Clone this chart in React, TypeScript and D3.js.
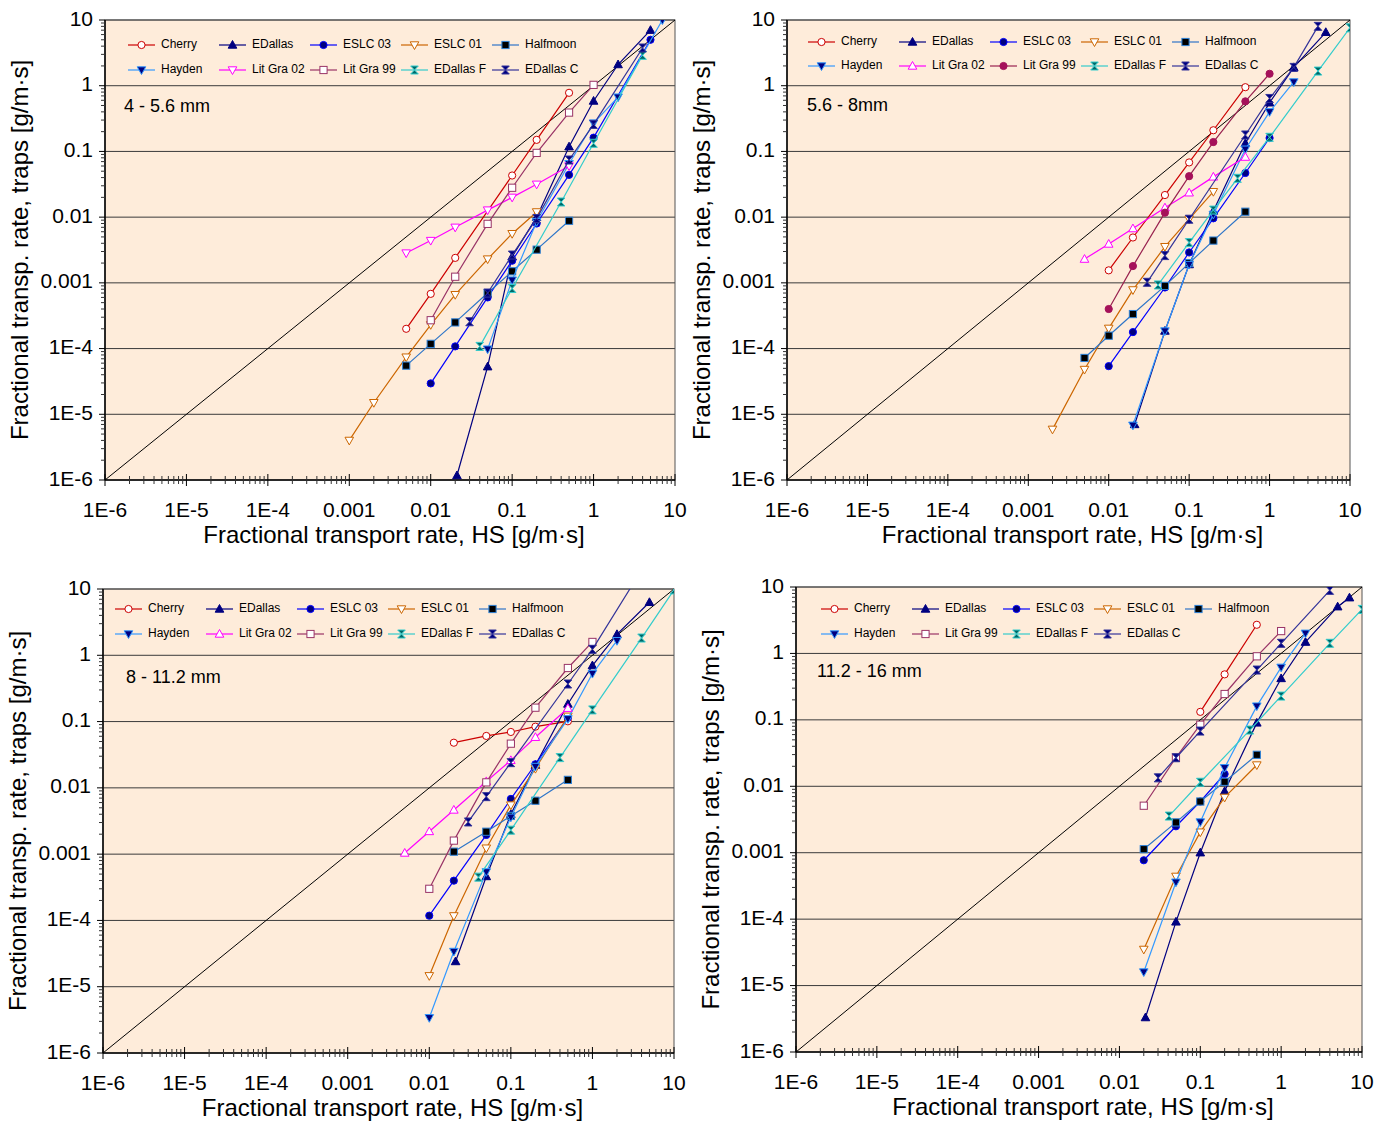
import React from "react";
import * as d3 from "d3";

type Pt = [number, number];

const TICK_VALUES = [1e-6, 1e-5, 1e-4, 1e-3, 0.01, 0.1, 1, 10];
const TICK_LABELS = ["1E-6", "1E-5", "1E-4", "0.001", "0.01", "0.1", "1", "10"];
const X_TITLE = "Fractional transport rate, HS [g/m·s]";
const Y_TITLE = "Fractional transp. rate, traps [g/m·s]";

// ---------- Panel 1: 4 - 5.6 mm ----------
const p1Cherry: Pt[] = [[0.005, 2e-4], [0.01, 6.8e-4], [0.02, 2.4e-3], [0.1, 0.043], [0.2, 0.15], [0.5, 0.78]];
const p1EDallas: Pt[] = [[0.021, 1.17e-6], [0.05, 5.3e-5], [0.1, 0.0025], [0.2, 0.01], [0.5, 0.118], [1, 0.585], [2, 2.1], [5, 7]];
const p1ESLC03: Pt[] = [[0.01, 2.95e-5], [0.02, 1.08e-4], [0.05, 6e-4], [0.1, 0.00217], [0.2, 0.008], [0.5, 0.044], [1, 0.162], [5, 5]];
const p1ESLC01: Pt[] = [[0.001, 4e-6], [0.002, 1.5e-5], [0.005, 7.4e-5], [0.01, 2.3e-4], [0.02, 6.6e-4], [0.05, 0.0023], [0.1, 0.0056], [0.2, 0.012]];
const p1Halfmoon: Pt[] = [[0.005, 5.5e-5], [0.01, 1.18e-4], [0.02, 2.5e-4], [0.05, 7e-4], [0.1, 0.0015], [0.2, 0.0032], [0.5, 0.0088]];
const p1Hayden: Pt[] = [[0.05, 9.8e-5], [0.1, 0.0011], [0.2, 0.0085], [0.5, 0.065], [1, 0.27], [2, 0.67], [7, 10]];
const p1LitGra02: Pt[] = [[0.005, 0.00284], [0.01, 0.0044], [0.02, 0.007], [0.05, 0.0128], [0.1, 0.02], [0.2, 0.0316], [0.5, 0.06]];
const p1LitGra99: Pt[] = [[0.01, 2.7e-4], [0.02, 1.24e-3], [0.05, 7.9e-3], [0.1, 0.028], [0.2, 0.095], [0.5, 0.39], [1, 1.03]];
const p1EDallasF: Pt[] = [[0.04, 1.08e-4], [0.1, 8.2e-4], [0.4, 0.017], [1, 0.133], [4, 2.9]];
const p1EDallasC: Pt[] = [[0.03, 2.56e-4], [0.05, 7e-4], [0.1, 0.00265], [0.2, 0.0095], [0.5, 0.074], [1, 0.258], [4, 3.75]];

// ---------- Panel 2: 5.6 - 8mm ----------
const p2Cherry: Pt[] = [[0.01, 0.00155], [0.02, 0.0049], [0.05, 0.0217], [0.1, 0.068], [0.2, 0.21], [0.5, 0.95]];
const p2EDallas: Pt[] = [[0.021, 7e-6], [0.05, 1.85e-4], [0.1, 0.0019], [0.2, 0.0124], [0.5, 0.133], [1, 0.55], [2, 1.9], [5, 6.5]];
const p2ESLC03: Pt[] = [[0.01, 5.4e-5], [0.02, 1.78e-4], [0.05, 8.5e-4], [0.1, 0.0029], [0.2, 0.0096], [0.5, 0.047], [1, 0.16]];
const p2ESLC01: Pt[] = [[0.002, 5.9e-6], [0.005, 4.8e-5], [0.01, 2.03e-4], [0.02, 7.8e-4], [0.05, 0.00355], [0.1, 0.0093], [0.2, 0.0244]];
const p2Halfmoon: Pt[] = [[0.005, 7.2e-5], [0.01, 1.57e-4], [0.02, 3.35e-4], [0.05, 9e-4], [0.1, 0.002], [0.2, 0.0044], [0.5, 0.0121]];
const p2Hayden: Pt[] = [[0.02, 6.8e-6], [0.05, 1.85e-4], [0.1, 0.0019], [0.2, 0.011], [0.5, 0.108], [1, 0.4], [2, 1.14]];
const p2LitGra02: Pt[] = [[0.005, 0.0023], [0.01, 0.0039], [0.02, 0.0067], [0.05, 0.0139], [0.1, 0.0235], [0.2, 0.041], [0.5, 0.082]];
const p2LitGra99: Pt[] = [[0.01, 4e-4], [0.02, 0.0018], [0.05, 0.0117], [0.1, 0.042], [0.2, 0.139], [0.5, 0.578], [1, 1.52]];
const p2EDallasF: Pt[] = [[0.041, 9.3e-4], [0.1, 0.0041], [0.2, 0.0128], [0.4, 0.039], [1, 0.164], [4, 1.67], [10, 7.6]];
const p2EDallasC: Pt[] = [[0.03, 0.00102], [0.05, 0.0026], [0.1, 0.0093], [0.5, 0.178], [1, 0.64], [2, 1.9], [4, 8]];

// ---------- Panel 3: 8 - 11.2 mm ----------
const p3Cherry: Pt[] = [[0.02, 0.048], [0.05, 0.0607], [0.1, 0.0697], [0.2, 0.0838], [0.5, 0.101]];
const p3EDallas: Pt[] = [[0.021, 2.4e-5], [0.05, 4.6e-4], [0.1, 0.004], [0.2, 0.022], [0.5, 0.184], [1, 0.7], [2, 2.07], [5, 6.3]];
const p3ESLC03: Pt[] = [[0.01, 1.18e-4], [0.02, 3.98e-4], [0.05, 0.00195], [0.1, 0.0068], [0.2, 0.0227], [0.5, 0.1146]];
const p3ESLC01: Pt[] = [[0.01, 1.46e-5], [0.02, 1.17e-4], [0.05, 0.00123], [0.1, 0.0055], [0.2, 0.0195], [0.5, 0.12]];
const p3Halfmoon: Pt[] = [[0.02, 0.00109], [0.05, 0.00218], [0.1, 0.00377], [0.2, 0.0064], [0.5, 0.0132]];
const p3Hayden: Pt[] = [[0.01, 3.4e-6], [0.02, 3.4e-5], [0.05, 5.4e-4], [0.1, 0.0036], [0.2, 0.021], [0.5, 0.11], [1, 0.53], [2, 1.66]];
const p3LitGra02: Pt[] = [[0.005, 0.00104], [0.01, 0.0022], [0.02, 0.00464], [0.05, 0.0125], [0.1, 0.026], [0.2, 0.058], [0.5, 0.159]];
const p3LitGra99: Pt[] = [[0.01, 3e-4], [0.02, 0.0016], [0.05, 0.0121], [0.1, 0.0464], [0.2, 0.162], [0.5, 0.643], [1, 1.59]];
const p3EDallasF: Pt[] = [[0.04, 4.5e-4], [0.1, 0.0023], [0.4, 0.0286], [1, 0.15], [4, 1.82], [10, 9.7]];
const p3EDallasC: Pt[] = [[0.03, 0.00306], [0.05, 0.00737], [0.1, 0.024], [0.5, 0.369], [1, 1.23], [5, 30]];

// ---------- Panel 4: 11.2 - 16 mm ----------
const p4Cherry: Pt[] = [[0.1, 0.132], [0.2, 0.484], [0.5, 2.7]];
const p4EDallas: Pt[] = [[0.021, 3.3e-6], [0.05, 9.1e-5], [0.1, 0.001], [0.2, 0.0084], [0.5, 0.09], [1, 0.42], [2, 1.48], [5, 5.05], [7, 6.9]];
const p4ESLC03: Pt[] = [[0.02, 7.7e-4], [0.05, 0.0025], [0.1, 0.0059], [0.2, 0.0153]];
const p4ESLC01: Pt[] = [[0.02, 3.5e-5], [0.05, 4.4e-4], [0.1, 0.00204], [0.2, 0.0068], [0.5, 0.0209]];
const p4Halfmoon: Pt[] = [[0.02, 0.00113], [0.05, 0.00286], [0.1, 0.0059], [0.2, 0.0117], [0.5, 0.0298]];
const p4Hayden: Pt[] = [[0.02, 1.6e-5], [0.05, 3.6e-4], [0.1, 0.0029], [0.2, 0.019], [0.5, 0.161], [1, 0.617], [2, 2.01]];
const p4LitGra99: Pt[] = [[0.02, 0.0051], [0.05, 0.027], [0.1, 0.0845], [0.2, 0.245], [0.5, 0.905], [1, 2.17]];
const p4EDallasF: Pt[] = [[0.041, 0.00356], [0.1, 0.0115], [0.41, 0.0702], [1, 0.228], [4, 1.42], [10, 4.6]];
const p4EDallasC: Pt[] = [[0.03, 0.0134], [0.05, 0.0269], [0.1, 0.0678], [0.5, 0.562], [1, 1.42], [4, 8.9]];

type MarkerType = "circle" | "square" | "triUp" | "triDown" | "hourglass";
interface Style { line: string; marker: MarkerType; fill: string; stroke: string; }

const STYLES: Record<string, Style> = {
  "Cherry": { line: "#CC0000", marker: "circle", fill: "#FFFFFF", stroke: "#CC0000" },
  "EDallas": { line: "#000080", marker: "triUp", fill: "#000080", stroke: "#000080" },
  "ESLC 03": { line: "#0000FF", marker: "circle", fill: "#000080", stroke: "#0000FF" },
  "ESLC 01": { line: "#CC6600", marker: "triDown", fill: "#FFFFFF", stroke: "#CC6600" },
  "Halfmoon": { line: "#2E75C8", marker: "square", fill: "#000000", stroke: "#2E82D8" },
  "Hayden": { line: "#3399FF", marker: "triDown", fill: "#000080", stroke: "#3399FF" },
  "Lit Gra 02": { line: "#FF00FF", marker: "triUp", fill: "#FFFFFF", stroke: "#FF00FF" },
  "Lit Gra 99": { line: "#993366", marker: "square", fill: "#FFFFFF", stroke: "#993366" },
  "EDallas F": { line: "#33CCCC", marker: "hourglass", fill: "#006666", stroke: "#33CCCC" },
  "EDallas C": { line: "#333399", marker: "hourglass", fill: "#000080", stroke: "#333399" },
};

interface SeriesDef { name: string; data: Pt[]; style?: Partial<Style>; }
interface PanelDef {
  x0: number; x1: number; y0: number; y1: number;
  label: string; labelX: number; labelY: number;
  legendX: number; legendY: number; legendRowGap: number;
  yTitleX: number;
  series: SeriesDef[];
}

function Marker({ type, x, y, fill, stroke }: { type: MarkerType; x: number; y: number; fill: string; stroke: string }) {
  const s = 3.6;
  if (type === "circle") return <circle cx={x} cy={y} r={s} fill={fill} stroke={stroke} strokeWidth={1} />;
  if (type === "square") return <rect x={x - s} y={y - s} width={2 * s} height={2 * s} fill={fill} stroke={stroke} strokeWidth={1} />;
  if (type === "triUp") return <path d={`M${x},${y - 4.5}L${x + 4.3},${y + 3.2}L${x - 4.3},${y + 3.2}Z`} fill={fill} stroke={stroke} strokeWidth={1} />;
  if (type === "triDown") return <path d={`M${x},${y + 4.5}L${x + 4.3},${y - 3.2}L${x - 4.3},${y - 3.2}Z`} fill={fill} stroke={stroke} strokeWidth={1} />;
  return <path d={`M${x - 3.8},${y - 4}L${x + 3.8},${y - 4}L${x - 3.8},${y + 4}L${x + 3.8},${y + 4}Z`} fill={fill} stroke={stroke} strokeWidth={1} />;
}

const FONT = "'Liberation Sans', Arial, sans-serif";

function Panel({ p, id }: { p: PanelDef; id: string }) {
  const x = d3.scaleLog().domain([1e-6, 10]).range([p.x0, p.x1]);
  const y = d3.scaleLog().domain([1e-6, 10]).range([p.y1, p.y0]);
  const line = d3.line<Pt>().x((d) => x(d[0])).y((d) => y(d[1]));
  const minor: number[] = [];
  for (let e = -6; e < 1; e++) for (let k = 2; k <= 9; k++) minor.push(k * Math.pow(10, e));
  const cx = (p.x0 + p.x1) / 2;
  const cy = (p.y0 + p.y1) / 2;
  const clipId = `clip-${id}`;
  return (
    <g>
      <defs>
        <clipPath id={clipId}>
          <rect x={p.x0} y={p.y0} width={p.x1 - p.x0} height={p.y1 - p.y0} />
        </clipPath>
      </defs>
      <rect x={p.x0} y={p.y0} width={p.x1 - p.x0} height={p.y1 - p.y0} fill="#FEECDA" />
      {TICK_VALUES.slice(1).map((v) => (
        <line key={`g${v}`} x1={p.x0} x2={p.x1} y1={y(v)} y2={y(v)} stroke="#3a3a3a" strokeWidth={1} />
      ))}
      <rect x={p.x0} y={p.y0} width={p.x1 - p.x0} height={p.y1 - p.y0} fill="none" stroke="#555" strokeWidth={1} />
      <line x1={x(1e-6)} y1={y(1e-6)} x2={x(10)} y2={y(10)} stroke="#000" strokeWidth={1} />
      <line x1={p.x0} x2={p.x1} y1={p.y1} y2={p.y1} stroke="#000" strokeWidth={1.5} />
      <line x1={p.x0} x2={p.x0} y1={p.y0} y2={p.y1} stroke="#000" strokeWidth={1.5} />
      {minor.map((v) => (
        <line key={`xm${v}`} x1={x(v)} x2={x(v)} y1={p.y1 - 4} y2={p.y1 + 4} stroke="#333" strokeWidth={1} />
      ))}
      {TICK_VALUES.map((v) => (
        <line key={`xM${v}`} x1={x(v)} x2={x(v)} y1={p.y1 - 6} y2={p.y1 + 6} stroke="#000" strokeWidth={1} />
      ))}
      {minor.map((v) => (
        <line key={`ym${v}`} x1={p.x0 - 4} x2={p.x0} y1={y(v)} y2={y(v)} stroke="#333" strokeWidth={1} />
      ))}
      {TICK_VALUES.map((v) => (
        <line key={`yM${v}`} x1={p.x0 - 6} x2={p.x0} y1={y(v)} y2={y(v)} stroke="#000" strokeWidth={1} />
      ))}
      {TICK_VALUES.map((v, i) => (
        <text key={`xl${v}`} x={x(v)} y={p.y1 + 31} textAnchor="middle" dominantBaseline="middle" fontSize={21} fontFamily={FONT} fill="#000">
          {TICK_LABELS[i]}
        </text>
      ))}
      {TICK_VALUES.map((v, i) => (
        <text key={`yl${v}`} x={p.x0 - 12} y={y(v)} textAnchor="end" dominantBaseline="middle" fontSize={21} fontFamily={FONT} fill="#000">
          {TICK_LABELS[i]}
        </text>
      ))}
      <text x={cx + 4} y={p.y1 + 57} textAnchor="middle" dominantBaseline="middle" fontSize={24} fontFamily={FONT} fill="#000">
        {X_TITLE}
      </text>
      <text transform={`translate(${p.yTitleX},${cy}) rotate(-90)`} textAnchor="middle" dominantBaseline="middle" fontSize={24} fontFamily={FONT} fill="#000">
        {Y_TITLE}
      </text>
      <text x={p.labelX} y={p.labelY} dominantBaseline="middle" fontSize={18} fontFamily={FONT} fill="#000">
        {p.label}
      </text>
      <g clipPath={`url(#${clipId})`}>
        {p.series.map((s) => {
          const st = { ...STYLES[s.name], ...(s.style || {}) };
          return (
            <g key={s.name}>
              <path d={line(s.data) || ""} fill="none" stroke={st.line} strokeWidth={1.2} />
              {s.data.map((d, i) => (
                <Marker key={i} type={st.marker} x={x(d[0])} y={y(d[1])} fill={st.fill} stroke={st.stroke} />
              ))}
            </g>
          );
        })}
      </g>
      {p.series.map((s, i) => {
        const st = { ...STYLES[s.name], ...(s.style || {}) };
        const col = i % 5;
        const row = Math.floor(i / 5);
        const lx = p.legendX + col * 91;
        const ly = p.legendY + row * p.legendRowGap;
        return (
          <g key={`lg${s.name}`}>
            <line x1={lx} x2={lx + 27} y1={ly} y2={ly} stroke={st.line} strokeWidth={1.2} />
            <Marker type={st.marker} x={lx + 13.5} y={ly} fill={st.fill} stroke={st.stroke} />
            <text x={lx + 33} y={ly} dominantBaseline="middle" fontSize={12} fontFamily={FONT} fill="#000">
              {s.name}
            </text>
          </g>
        );
      })}
    </g>
  );
}

const PANELS: PanelDef[] = [
  {
    x0: 105, x1: 675, y0: 20, y1: 480, label: "4 - 5.6 mm", labelX: 124, labelY: 107,
    legendX: 128, legendY: 45, legendRowGap: 25, yTitleX: 22,
    series: [
      { name: "Cherry", data: p1Cherry }, { name: "EDallas", data: p1EDallas }, { name: "ESLC 03", data: p1ESLC03 },
      { name: "ESLC 01", data: p1ESLC01 }, { name: "Halfmoon", data: p1Halfmoon }, { name: "Hayden", data: p1Hayden },
      { name: "Lit Gra 02", data: p1LitGra02, style: { marker: "triDown" } }, { name: "Lit Gra 99", data: p1LitGra99 },
      { name: "EDallas F", data: p1EDallasF }, { name: "EDallas C", data: p1EDallasC },
    ],
  },
  {
    x0: 787, x1: 1350, y0: 20, y1: 480, label: "5.6 - 8mm", labelX: 807, labelY: 106,
    legendX: 808, legendY: 42, legendRowGap: 24, yTitleX: 704,
    series: [
      { name: "Cherry", data: p2Cherry }, { name: "EDallas", data: p2EDallas }, { name: "ESLC 03", data: p2ESLC03 },
      { name: "ESLC 01", data: p2ESLC01 }, { name: "Halfmoon", data: p2Halfmoon }, { name: "Hayden", data: p2Hayden },
      { name: "Lit Gra 02", data: p2LitGra02 },
      { name: "Lit Gra 99", data: p2LitGra99, style: { marker: "circle", fill: "#A5115A", stroke: "#A5115A", line: "#99224F" } },
      { name: "EDallas F", data: p2EDallasF }, { name: "EDallas C", data: p2EDallasC },
    ],
  },
  {
    x0: 103, x1: 674, y0: 589, y1: 1053, label: "8 - 11.2 mm", labelX: 126, labelY: 678,
    legendX: 115, legendY: 609, legendRowGap: 25, yTitleX: 20,
    series: [
      { name: "Cherry", data: p3Cherry }, { name: "EDallas", data: p3EDallas }, { name: "ESLC 03", data: p3ESLC03 },
      { name: "ESLC 01", data: p3ESLC01 }, { name: "Halfmoon", data: p3Halfmoon }, { name: "Hayden", data: p3Hayden },
      { name: "Lit Gra 02", data: p3LitGra02 }, { name: "Lit Gra 99", data: p3LitGra99 },
      { name: "EDallas F", data: p3EDallasF }, { name: "EDallas C", data: p3EDallasC },
    ],
  },
  {
    x0: 796, x1: 1362, y0: 587, y1: 1052, label: "11.2 - 16 mm", labelX: 817, labelY: 672,
    legendX: 821, legendY: 609, legendRowGap: 25, yTitleX: 713,
    series: [
      { name: "Cherry", data: p4Cherry }, { name: "EDallas", data: p4EDallas }, { name: "ESLC 03", data: p4ESLC03 },
      { name: "ESLC 01", data: p4ESLC01 }, { name: "Halfmoon", data: p4Halfmoon }, { name: "Hayden", data: p4Hayden },
      { name: "Lit Gra 99", data: p4LitGra99 }, { name: "EDallas F", data: p4EDallasF }, { name: "EDallas C", data: p4EDallasC },
    ],
  },
];

export default function App() {
  return (
    <svg width={1385} height={1123} style={{ position: "absolute", left: 0, top: 0, background: "#fff" }}>
      <rect x={0} y={0} width={1385} height={1123} fill="#fff" />
      {PANELS.map((p, i) => (
        <Panel key={i} p={p} id={`p${i}`} />
      ))}
    </svg>
  );
}
